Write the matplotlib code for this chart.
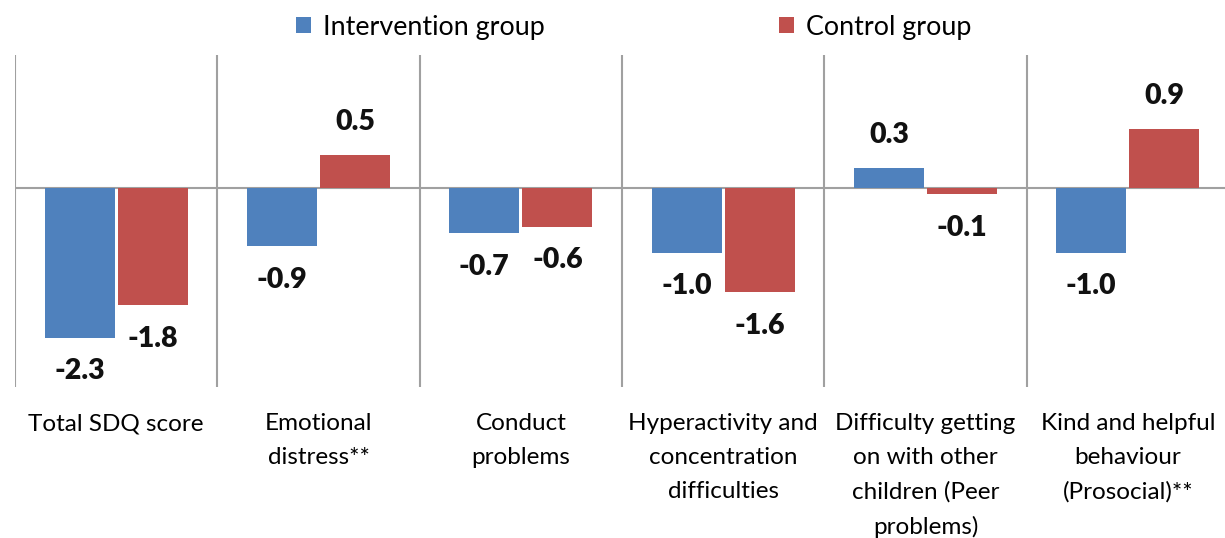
import matplotlib
matplotlib.use("Agg")
import matplotlib.pyplot as plt
from matplotlib.patches import Patch
import numpy as np

categories = ["Total SDQ score", "Emotional\ndistress**", "Conduct\nproblems",
              "Hyperactivity and\nconcentration\ndifficulties",
              "Difficulty getting\non with other\nchildren (Peer\nproblems)",
              "Kind and helpful\nbehaviour\n(Prosocial)**"]
intervention = [-2.3, -0.9, -0.7, -1.0, 0.3, -1.0]
control = [-1.8, 0.5, -0.6, -1.6, -0.1, 0.9]
series_names = ["Intervention group", "Control group"]

BLUE = "#4F81BD"
RED = "#C0504D"
GRID = "#A0A0A0"
FONT = "Lato"

plt.rcParams['font.family'] = [FONT, 'DejaVu Sans']

W, H = 1225, 538
fig = plt.figure(figsize=(W / 100, H / 100), dpi=100)
ax = fig.add_axes([15 / W, (H - 387) / H, 1214 / W, (387 - 55) / H])

x = np.arange(len(categories))
bw = 0.346
off = 0.181
b1 = ax.bar(x - off, intervention, bw, color=BLUE, zorder=3)
b2 = ax.bar(x + off, control, bw, color=RED, zorder=3)

ax.set_xlim(-0.5, len(categories) - 0.5)
ax.set_ylim(-3.05, 2.03)

for v in np.arange(-0.5, len(categories), 1.0):
    ax.axvline(v, color=GRID, lw=1.5, zorder=1)
ax.axhline(0, color=GRID, lw=1.5, zorder=2)

for spine in ax.spines.values():
    spine.set_visible(False)
ax.set_yticks([])
ax.set_xticks(x)
ax.set_xticklabels(categories, fontsize=17.5, color="#000000", linespacing=1.75)
ax.tick_params(axis='x', length=0, pad=19)

for bars, vals in ((b1, intervention), (b2, control)):
    for rect, v in zip(bars, vals):
        cx = rect.get_x() + rect.get_width() / 2
        dy = 24 if v >= 0 else -24
        ax.annotate(f"{v:.1f}", xy=(cx, v), xytext=(0, dy), textcoords="offset points",
                    ha="center", va="center", fontsize=20.5, fontweight="heavy", color="#111111")

handles = [Patch(facecolor=BLUE), Patch(facecolor=RED)]
fig.legend(handles, series_names, loc="center", bbox_to_anchor=(634 / W, 1 - 27 / H),
           ncol=2, frameon=False, fontsize=19.4, handlelength=0.55, handleheight=0.55,
           handletextpad=0.45, columnspacing=8.7)

fig.savefig("out.png", dpi=100)
